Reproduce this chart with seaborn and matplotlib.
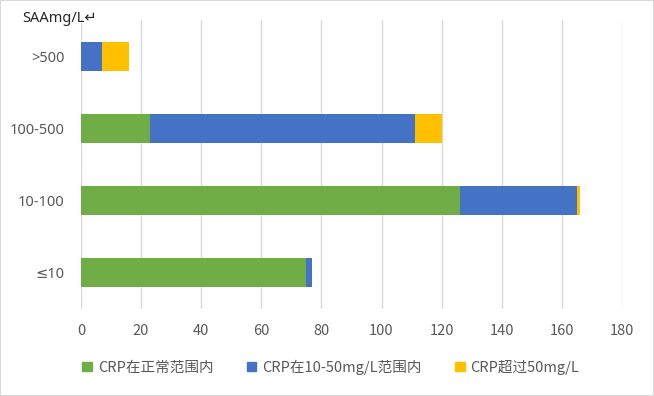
import numpy as np
import pandas as pd
import matplotlib
matplotlib.use("Agg")
import matplotlib.pyplot as plt
import seaborn as sns
from matplotlib.patches import Rectangle

# data
categories = [">500", "100-500", "10-100", "≤10"]
crp_normal = [0, 23, 126, 75]
crp_10_50 = [7, 88, 39, 2]
crp_over_50 = [9, 9, 1, 0]
series_names = ["CRP在正常范围内", "CRP在10-50mg/L范围内", "CRP超过50mg/L"]
colors = ["#70AD47", "#4472C4", "#FFC000"]
xticks = [0, 20, 40, 60, 80, 100, 120, 140, 160, 180]

sns.set_style("white")
plt.rcParams["font.family"] = ["Noto Sans CJK SC", "DejaVu Sans"]

df = pd.DataFrame({"cat": categories,
                   series_names[0]: crp_normal,
                   series_names[1]: crp_10_50,
                   series_names[2]: crp_over_50})
cum = df[series_names].cumsum(axis=1)

fig = plt.figure(figsize=(6.54, 3.96), dpi=100)
ax = fig.add_axes([81 / 654, 1 - 309 / 396, 541 / 654, 289 / 396])

# stacked bars: draw totals first, then overlay shorter segments
for name, col in reversed(list(zip(series_names, colors))):
    sns.barplot(x=cum[name], y=df["cat"], orient="h", color=col,
                width=0.4, saturation=1, ax=ax, label=name, linewidth=0)

ax.set_xlim(0, 180)
ax.set_xticks(xticks)
ax.set_xlabel("")
ax.set_ylabel("")
ax.grid(axis="x", color="#d9d9d9", linewidth=1)
ax.set_axisbelow(True)
for s in ax.spines.values():
    s.set_visible(False)
ax.tick_params(axis="both", length=0, colors="#595959", labelsize=10.5)
ax.tick_params(axis="x", pad=11)
ax.tick_params(axis="y", pad=12)
for t in ax.get_yticklabels():
    t.set_family(["Noto Sans", "DejaVu Sans"])
if ax.get_legend():
    ax.get_legend().remove()

fig.text(22 / 654, 1 - 18 / 396, "SAAmg/L↵", fontsize=10.5, color="#262626",
         va="center", ha="left", family=["Noto Sans", "DejaVu Sans"])

handles = [Rectangle((0, 0), 1, 1, color=c) for c in colors]
fig.legend(handles, series_names, loc="center", bbox_to_anchor=(0.506, 1 - 367 / 396),
           ncol=3, frameon=False, fontsize=10.5, labelcolor="#595959",
           handlelength=0.65, handleheight=0.65, handletextpad=0.4,
           columnspacing=2.3)

fig.patches.append(Rectangle((0, 0), 1, 1, transform=fig.transFigure,
                             fill=False, edgecolor="#d9d9d9", linewidth=1.5))

fig.savefig("out.png", dpi=100)
